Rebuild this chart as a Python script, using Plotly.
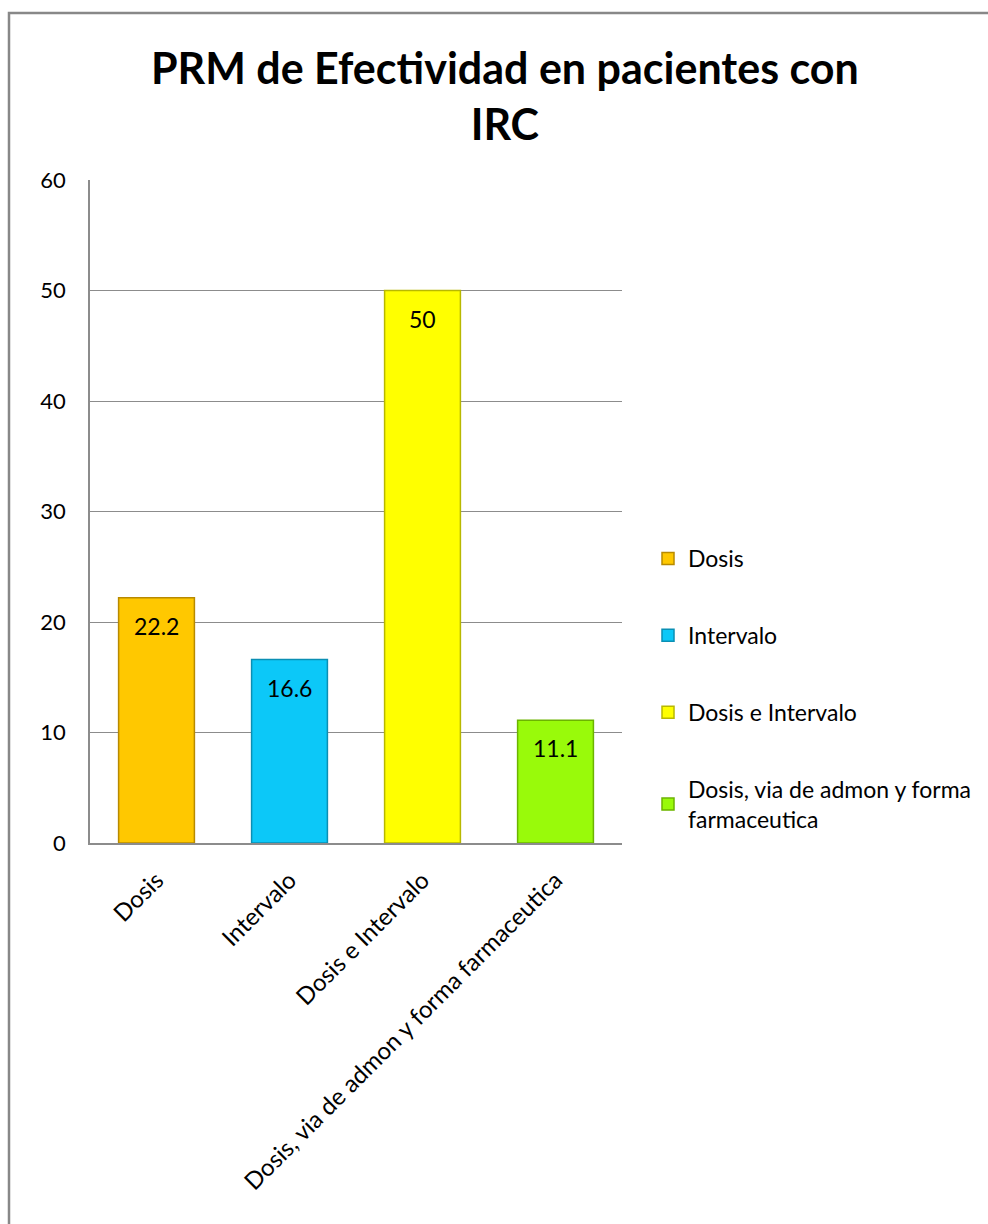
import plotly.graph_objects as go

categories = ["Dosis", "Intervalo", "Dosis e Intervalo", "Dosis, via de admon y forma farmaceutica"]
legend_names = ["Dosis", "Intervalo", "Dosis e Intervalo", "Dosis, via de admon y forma<br>farmaceutica"]
values = [22.2, 16.6, 50, 11.1]
fill_colors = ["#FFC800", "#0CC8F8", "#FFFF00", "#99FA0A"]
edge_colors = ["#B88A00", "#0A8FB4", "#B8B800", "#6CB400"]
y_ticks = [0, 10, 20, 30, 40, 50, 60]

FONT = "Lato, 'Open Sans', sans-serif"
TXT = 23

fig = go.Figure()
for i, cat in enumerate(categories):
    fig.add_trace(go.Bar(
        x=[cat], y=[values[i]],
        name=legend_names[i],
        legendgroup=f"g{i}",
        marker=dict(color=fill_colors[i], line=dict(color=edge_colors[i], width=1.5)),
    ))
    # value label just inside the top of each bar
    fig.add_annotation(
        x=cat, y=values[i], xref="x", yref="y",
        text=f"{values[i]:g}", showarrow=False,
        yanchor="top", yshift=-12,
        font=dict(family=FONT, size=TXT, color="#000000"),
    )

fig.update_layout(
    width=988, height=1224,
    margin=dict(l=90, r=366, t=180, b=381),
    paper_bgcolor="white", plot_bgcolor="white",
    barmode="overlay", bargap=0.43,
    title=dict(
        text="<b>PRM de Efectividad en pacientes con<br>IRC</b>",
        font=dict(family=FONT, size=43, color="#000000"),
        xref="container", x=0.511, xanchor="center",
        yref="container", y=1 - 84 / 1224, yanchor="top",
    ),
    legend=dict(
        xref="container", yref="container",
        x=648 / 988, y=1 - 537 / 1224, xanchor="left", yanchor="top",
        font=dict(family=FONT, size=TXT, color="#000000"),
        traceorder="grouped", tracegroupgap=44,
        itemwidth=30, bgcolor="rgba(0,0,0,0)",
    ),
    xaxis=dict(
        categoryorder="array", categoryarray=categories,
        tickangle=-45, showgrid=False,
        showline=True, linecolor="#8C8C8C", linewidth=1.5,
        tickfont=dict(family=FONT, size=24, color="#000000"),
        ticks="", ticklabelstandoff=12,
    ),
    yaxis=dict(
        range=[0, 60], tickvals=y_ticks,
        showgrid=True, gridcolor="#8C8C8C", gridwidth=1,
        showline=True, linecolor="#8C8C8C", linewidth=1.5,
        zeroline=False, ticks="", ticklen=0,
        tickfont=dict(family=FONT, size=22, color="#000000"),
        ticklabelstandoff=18,
    ),
    shapes=[dict(
        type="rect", xref="paper", yref="paper",
        x0=(9 - 90) / 532, x1=(1000 - 90) / 532,
        y0=(843 - 1240) / 663, y1=(843 - 13) / 663,
        line=dict(color="#888888", width=2.5), fillcolor="rgba(0,0,0,0)",
        layer="below",
    )],
)

fig.write_html("out.html")
